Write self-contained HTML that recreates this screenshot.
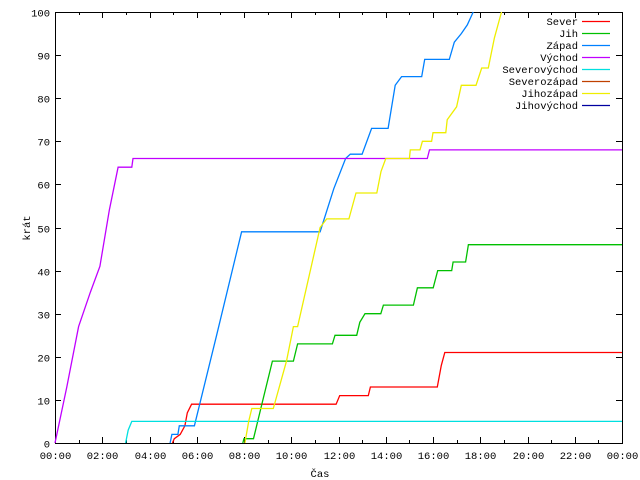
<!DOCTYPE html>
<html><head><meta charset="utf-8"><style>
body{margin:0;background:#fff}
svg{display:block}
text{font-family:"Liberation Mono","DejaVu Sans Mono",monospace;font-size:10.5px;fill:#000}
</style></head><body>
<svg id="chart" width="640" height="480" xmlns="http://www.w3.org/2000/svg">
<g id="axes"></g>
<g id="series"></g>
<g id="legend"></g>
<text transform="translate(30,228) rotate(-90)" text-anchor="middle">krát</text>
<text x="320" y="477" text-anchor="middle">Čas</text>
</svg>
<script>
const seriesNames = ["Sever","Jih","Západ","Východ","Severovýchod","Severozápad","Jihozápad","Jihovýchod"];
const seriesColors = ["#ff0000","#00c000","#0080ff","#c000ff","#00e0e0","#c04000","#eeee00","#0000a0"];
const xTickLabels = ["00:00","02:00","04:00","06:00","08:00","10:00","12:00","14:00","16:00","18:00","20:00","22:00","00:00"];
const yTickLabels = ["0","10","20","30","40","50","60","70","80","90","100"];
const serSever = [[4.97,0],[5.05,1],[5.3,2],[5.5,4],[5.6,7],[5.78,9],[11.9,9],[12.05,11],[13.26,11],[13.35,13],[16.18,13],[16.35,18],[16.5,21],[24,21]];
const serJih = [[7.95,0],[8.0,1],[8.4,1],[8.8,10],[9.2,19],[10.09,19],[10.27,23],[11.74,23],[11.85,25],[12.77,25],[12.9,28],[13.12,30],[13.79,30],[13.9,32],[15.17,32],[15.34,36],[16.01,36],[16.2,40],[16.79,40],[16.85,42],[17.38,42],[17.5,46],[24,46]];
const serZapad = [[4.87,0],[4.95,2],[5.2,2],[5.26,4],[5.9,4],[6.84,25],[7.9,49],[11.22,49],[11.8,59],[12.3,66],[12.5,67],[13.0,67],[13.4,73],[14.1,73],[14.4,83],[14.67,85],[15.52,85],[15.65,89],[16.69,89],[16.9,93],[17.2,95],[17.45,97],[17.7,100]];
const serVychod = [[0,0],[0.5,13],[1,27],[1.5,35],[1.9,41],[2.3,54],[2.67,64],[3.25,64],[3.3,66],[15.76,66],[15.85,68],[24,68]];
const serSeverovychod = [[2.99,0],[3.1,3],[3.25,5],[24,5]];
const serSeverozapad = [];
const serJihozapad = [[8.04,0],[8.2,5],[8.33,8],[9.24,8],[9.8,19],[10.09,27],[10.27,27],[11.22,50],[11.5,52],[12.44,52],[12.74,58],[13.62,58],[13.8,63],[14.0,66],[15.0,66],[15.04,68],[15.45,68],[15.55,70],[15.94,70],[16.0,72],[16.54,72],[16.6,75],[17.0,78],[17.2,83],[17.82,83],[18.06,87],[18.34,87],[18.6,94],[18.9,100]];
const serJihovychod = [];
const allSeries = [serSever,serJih,serZapad,serVychod,serSeverovychod,serSeverozapad,serJihozapad,serJihovychod];

const X0=55,X1=622,Y0=443,Y1=12;
const xs = h => X0 + (X1-X0)*h/24;
const ys = v => Y0 - (Y0-Y1)*v/100;
const NS="http://www.w3.org/2000/svg";
function mk(tag,attrs,parent){const e=document.createElementNS(NS,tag);for(const k in attrs)e.setAttribute(k,attrs[k]);parent.appendChild(e);return e;}
const axes=document.getElementById('axes');
const ln=(x1,y1,x2,y2)=>mk('line',{x1,y1,x2,y2,stroke:'#000','stroke-width':1},axes);
const fr=mk('rect',{x:X0+0.5,y:Y1+0.5,width:X1-X0,height:Y0-Y1,fill:'none',stroke:'#000'},axes);


for(let i=0;i<yTickLabels.length;i++){
  const y=Math.round(ys(i*10))+0.5;
  ln(X0,y,X0+6,y);ln(X1-6,y,X1,y);
  const t=mk('text',{x:X0-5,y:y+4,'text-anchor':'end'},axes);t.textContent=yTickLabels[i];
  
  
}
for(let h=0;h<=24;h++){
  const x=Math.round(xs(h))+0.5;const L=h%2==0?6:3;
  ln(x,Y0,x,Y0-L);ln(x,Y1,x,Y1+L);
  if(h%2==0){const t=mk('text',{x:x,y:Y0+16,'text-anchor':'middle'},axes);t.textContent=xTickLabels[h/2];
  
  }
}
const sg=document.getElementById('series');
allSeries.forEach((s,i)=>{
  if(!s.length)return;
  const p=mk('polyline',{points:s.map(d=>xs(d[0]).toFixed(1)+','+ys(d[1]).toFixed(1)).join(' '),fill:'none',stroke:seriesColors[i],'stroke-width':1.3},sg);
  
  
});
const lg=document.getElementById('legend');
seriesNames.forEach((n,i)=>{
  const y=21+i*12;
  const t=mk('text',{x:578,y:y+4,'text-anchor':'end'},lg);t.textContent=n;
  
  
  const l=mk('line',{x1:582,y1:y+0.5,x2:610,y2:y+0.5,stroke:seriesColors[i],'stroke-width':1.3},lg);
  
  
});
</script>
</body></html>
